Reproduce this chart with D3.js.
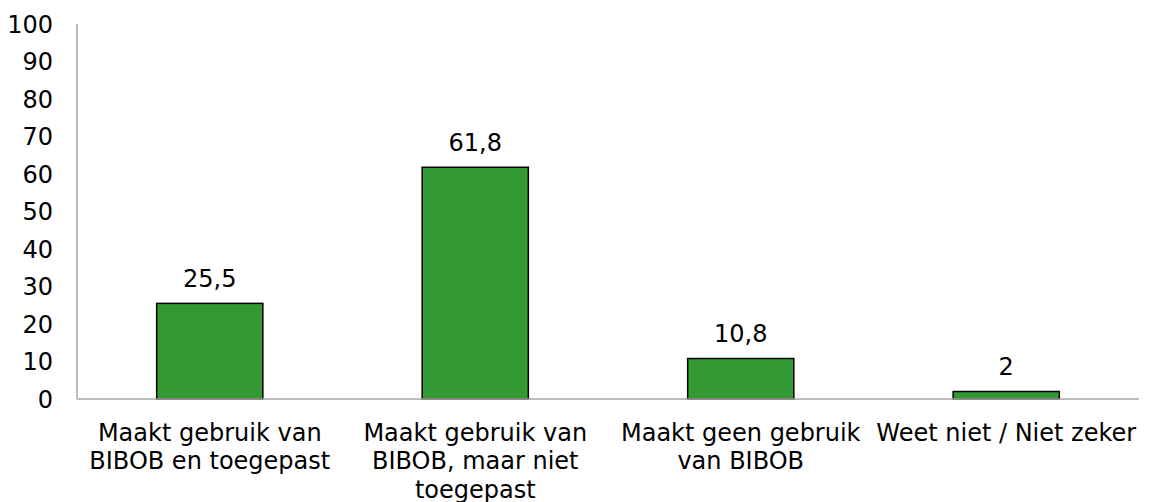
<!DOCTYPE html>
<html>
<head>
<meta charset="utf-8">
<script src="https://cdn.jsdelivr.net/npm/d3@7"></script>
<style>
  body { margin: 0; background: #fff; }
  text { font-family: "DejaVu Sans", Verdana, sans-serif; fill: #000; }
</style>
</head>
<body>
<script>
var categories = [
  ["Maakt gebruik van", "BIBOB en toegepast"],
  ["Maakt gebruik van", "BIBOB, maar niet", "toegepast"],
  ["Maakt geen gebruik", "van BIBOB"],
  ["Weet niet / Niet zeker"]
]
var values = [25.5, 61.8, 10.8, 2]
var valueLabels = ["25,5", "61,8", "10,8", "2"]
var yTicks = [0, 10, 20, 30, 40, 50, 60, 70, 80, 90, 100]

var width = 1149, height = 502
var plotLeft = 77, plotRight = 1139, plotTop = 24, plotBottom = 399

var svg = d3.select("body").append("svg")
  .attr("width", width)
  .attr("height", height)

var x = d3.scaleBand()
  .domain(d3.range(categories.length))
  .range([plotLeft, plotRight])
  .paddingInner(0.6)
  .paddingOuter(0.3)

var y = d3.scaleLinear().domain([0, 100]).range([plotBottom, plotTop])

// y axis line
svg.append("line")
  .attr("x1", plotLeft).attr("x2", plotLeft)
  .attr("y1", plotTop).attr("y2", plotBottom)
  .attr("stroke", "#a6a6a6").attr("stroke-width", 1.5)

svg.selectAll(".ytick")
  .data(yTicks)
  .enter().append("text")
  .attr("class", "ytick")
  .attr("x", 53)
  .attr("y", function (d) { return y(d) })
  .attr("dy", "0.36em")
  .attr("text-anchor", "end")
  .style("font-size", "24px")
  .text(function (d) { return d })

svg.selectAll("rect")
  .data(values)
  .enter().append("rect")
  .attr("x", function (d, i) { return x(i) })
  .attr("width", x.bandwidth())
  .attr("y", function (d) { return y(d) })
  .attr("height", function (d) { return plotBottom - y(d) })
  .attr("fill", "#339933")
  .attr("stroke", "#000")
  .attr("stroke-width", 1.5)

// x axis line
svg.append("line")
  .attr("x1", plotLeft).attr("x2", plotRight)
  .attr("y1", plotBottom).attr("y2", plotBottom)
  .attr("stroke", "#a6a6a6").attr("stroke-width", 1.5)

svg.selectAll(".vlabel")
  .data(values)
  .enter().append("text")
  .attr("class", "vlabel")
  .attr("x", function (d, i) { return x(i) + x.bandwidth() / 2 })
  .attr("y", function (d) { return y(d) - 16.5 })
  .attr("text-anchor", "middle")
  .style("font-size", "24px")
  .text(function (d, i) { return valueLabels[i] })

var cat = svg.selectAll(".cat")
  .data(categories)
  .enter().append("text")
  .attr("class", "cat")
  .attr("text-anchor", "middle")
  .style("font-size", "24px")

cat.selectAll("tspan")
  .data(function (d, i) { return d.map(function (line) { return { line: line, i: i } }) })
  .enter().append("tspan")
  .attr("x", function (d) { return x(d.i) + x.bandwidth() / 2 })
  .attr("y", function (d, j) { return 441 + j * 28.3 })
  .text(function (d) { return d.line })
</script>
</body>
</html>
